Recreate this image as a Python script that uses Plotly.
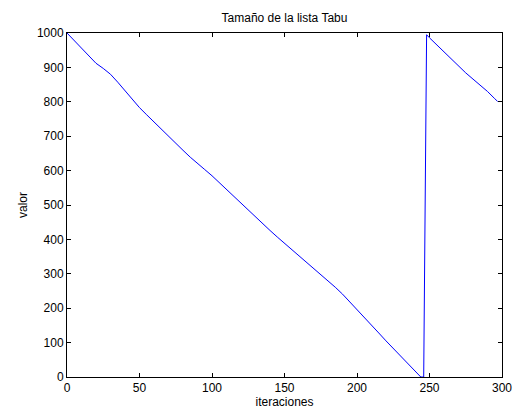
import plotly.graph_objects as go

# Tabu list size per iteration (sampled)
iteraciones = [0, 5, 10, 15, 20, 25, 30, 35, 40, 45, 50, 55, 60, 65, 70, 75, 80, 85, 90, 95,
               100, 105, 110, 115, 120, 125, 130, 135, 140, 145, 150, 155, 160, 165, 170, 175,
               180, 185, 190, 195, 200, 205, 210, 215, 220, 225, 230, 235, 240, 243, 244, 245,
               246, 247, 248, 250, 255, 260, 265, 270, 275, 280, 285, 290, 295, 297]
valor = [1000, 978, 955, 932, 912, 897, 880, 857, 832, 807, 783, 762, 741, 720, 699, 679, 659,
         639, 620, 603, 585, 565, 544, 523, 503, 484, 464, 445, 426, 407, 389, 371, 353, 335,
         317, 299, 280, 261, 241, 219, 196, 173, 150, 128, 105, 83, 61, 40, 18, 4, 0, 0,
         0, 500, 995, 986, 965, 944, 923, 903, 884, 866, 849, 830, 809, 801]

x_ticks = [0, 50, 100, 150, 200, 250, 300]
y_ticks = [0, 100, 200, 300, 400, 500, 600, 700, 800, 900, 1000]

font_family = "Liberation Sans, Arial, Helvetica, sans-serif"

fig = go.Figure(
    go.Scatter(x=iteraciones, y=valor, mode="lines",
               line=dict(color="#0000ff", width=1), showlegend=False)
)

axis_common = dict(
    showline=True, linecolor="black", linewidth=1, mirror="ticks",
    ticks="inside", ticklen=4, tickcolor="black", tickwidth=1,
    showgrid=False, zeroline=False, automargin=False,
    tickfont=dict(family=font_family, size=12, color="black"),
)

fig.update_layout(
    width=518, height=416,
    margin=dict(l=67, r=16, t=33, b=39),
    paper_bgcolor="white", plot_bgcolor="white",
    title=dict(text="Tamaño de la lista Tabu", x=(67 + 502) / 2 / 518, xanchor="center",
               y=1 - 18 / 416, yanchor="middle",
               font=dict(family=font_family, size=12, color="black")),
    xaxis=dict(range=[0, 300], tickvals=x_ticks,
               title=dict(text="iteraciones", standoff=2,
                          font=dict(family=font_family, size=12, color="black")),
               **axis_common),
    yaxis=dict(range=[0, 1000], tickvals=y_ticks,
               title=dict(text="valor", standoff=6,
                          font=dict(family=font_family, size=12, color="black")),
               **axis_common),
)

fig.write_html("out.html")
